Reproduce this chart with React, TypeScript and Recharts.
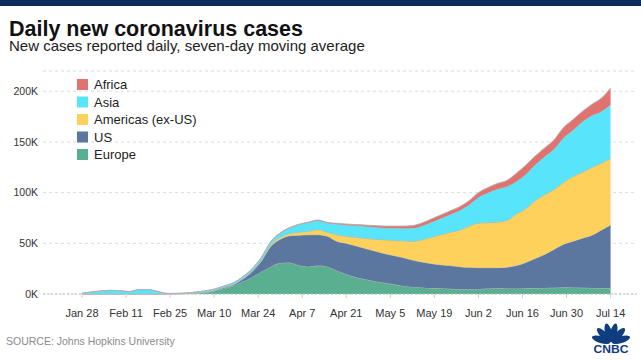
import { AreaChart, Area, XAxis, YAxis, CartesianGrid } from "recharts";

// day index, 0 = Jan 22
const DAYS = [
  6, 9, 12, 15, 18, 21, 24, 27, 30, 33, 36, 39, 42, 45, 48, 51, 54, 57, 60, 63,
  66, 69, 72, 75, 78, 81, 84, 87, 90, 93, 96, 99, 102, 105, 108, 111, 114, 117,
  120, 123, 126, 129, 132, 135, 138, 141, 144, 147, 150, 153, 156, 159, 162,
  165, 168, 171, 174,
];

// seven-day averages, thousands of cases
const EUROPE = [
  0, 0, 0, 0, 0, 0, 0, 0, 0, 0.1, 0.2, 0.4, 0.9, 1.6, 3, 5.5, 8, 12, 16.5, 22,
  27, 30.5, 31, 28, 27, 28, 27, 23, 19.5, 16.5, 14.5, 12.5, 11, 9.5, 8, 7, 6.5,
  5.8, 5.6, 5.2, 4.8, 4.6, 4.8, 5.4, 5.6, 5.4, 5.4, 5.6, 5.8, 6, 6.2, 6.6, 6.4,
  6.2, 6, 5.8, 5.8,
];
const US = [
  0, 0, 0, 0, 0, 0, 0, 0, 0, 0, 0, 0, 0.05, 0.2, 0.4, 0.8, 1, 2.5, 5.5, 10.5,
  20, 23.5, 26.5, 30, 31.5, 30.5, 30, 29, 30.5, 31, 30.5, 30, 29, 28.5, 28,
  26.5, 25, 24.2, 23.2, 22.8, 22.2, 21.7, 21.2, 20.6, 20.4, 21.1, 22.6, 25.4,
  29.2, 33, 37.8, 42.4, 45.6, 48.8, 52, 57.2, 62.2,
];
const AMERICAS = [
  0, 0, 0, 0, 0, 0, 0, 0, 0, 0, 0, 0, 0, 0.05, 0.1, 0.15, 0.3, 0.4, 0.6, 1,
  1.5, 2, 2.2, 3, 3.5, 5, 4, 6.5, 7, 8.5, 10, 11.5, 13.5, 15, 16.5, 18.5, 22,
  26, 29.7, 33, 36, 40.7, 44, 44.5, 45, 46, 51, 53, 57, 59, 59, 61, 64, 65, 67,
  66, 66,
];
const ASIA = [
  0.7, 2, 3, 3.6, 3.3, 2.4, 4.3, 4.4, 2.5, 0.5, 0.4, 0.5, 0.9, 1.2, 1.3, 1.3,
  1.5, 1.8, 2, 2.5, 3, 4, 5.5, 7.5, 8.5, 9, 9, 10.5, 11, 11.5, 11.8, 12, 11.7,
  12, 12.3, 13, 13.7, 14.8, 16, 17.5, 19.5, 21, 25.5, 29.5, 32.5, 33.5, 32, 34,
  35.5, 37.5, 40, 44, 45.5, 50, 51, 51, 53,
];
const AFRICA = [
  0, 0, 0, 0, 0, 0, 0, 0, 0, 0, 0, 0, 0, 0, 0, 0, 0, 0, 0.1, 0.15, 0.2, 0.25,
  0.3, 0.35, 0.4, 0.5, 0.6, 0.8, 1, 1, 1.2, 1.5, 1.8, 2, 2.2, 2.5, 2.8, 3.2,
  3.5, 3.5, 3.5, 4, 4.5, 5, 5.5, 6, 8, 9, 8.5, 8.5, 9, 10, 10.5, 10, 11, 13, 16,
];

const TICK_DAYS = [6, 20, 34, 48, 62, 76, 90, 104, 118, 132, 146, 160, 174];
const TICK_LABELS = [
  "Jan 28", "Feb 11", "Feb 25", "Mar 10", "Mar 24", "Apr 7", "Apr 21",
  "May 5", "May 19", "Jun 2", "Jun 16", "Jun 30", "Jul 14",
];
const Y_TICKS = [0, 50, 100, 150, 200];

// bottom to top in the stack
const SERIES = [
  { key: "europe", name: "Europe", color: "#5aaf91" },
  { key: "us", name: "US", color: "#5b77a0" },
  { key: "americas", name: "Americas (ex-US)", color: "#fed05c" },
  { key: "asia", name: "Asia", color: "#58e5fc" },
  { key: "africa", name: "Africa", color: "#e0736f" },
];

const data = DAYS.map((day, i) => ({
  day,
  europe: EUROPE[i],
  us: US[i],
  americas: AMERICAS[i],
  asia: ASIA[i],
  africa: AFRICA[i],
}));

const FONT = "'Liberation Sans', Arial, sans-serif";

function Logo() {
  const angles = [-72, -43, -14, 14, 43, 72];
  return (
    <svg
      width={40}
      height={36}
      style={{ position: "absolute", left: 591, top: 320 }}
    >
      {angles.map((a) => (
        <ellipse
          key={a}
          cx={20}
          cy={12.5}
          rx={3.4}
          ry={9.5}
          fill="#0f3d7e"
          transform={`rotate(${a} 20 23)`}
        />
      ))}
      <text
        x={20}
        y={33}
        textAnchor="middle"
        fontFamily={FONT}
        fontWeight="bold"
        fontSize={10}
        fill="#0f3d7e"
        textLength={35}
        lengthAdjust="spacingAndGlyphs"
      >
        CNBC
      </text>
    </svg>
  );
}

export default function App() {
  const legendOrder = [...SERIES].reverse();
  return (
    <div
      style={{
        position: "absolute",
        left: 0,
        top: 0,
        width: 641,
        height: 360,
        background: "#fff",
        fontFamily: FONT,
        overflow: "hidden",
      }}
    >
      <div
        style={{
          position: "absolute",
          left: 0,
          top: 0,
          width: 641,
          height: 6,
          background: "#0d2c5c",
        }}
      />
      <AreaChart
        width={641}
        height={360}
        data={data}
        margin={{ top: 71, right: 4, left: 0, bottom: 36 }}
      >
        <CartesianGrid
          vertical={false}
          stroke="#dcdcdc"
          strokeDasharray="3 3"
        />
        <XAxis
          dataKey="day"
          type="number"
          domain={[-6.4, 182.4]}
          ticks={TICK_DAYS}
          tickFormatter={(v: number) => TICK_LABELS[TICK_DAYS.indexOf(v)] ?? ""}
          interval={0}
          height={30}
          axisLine={{ stroke: "#bdbdbd", strokeDasharray: "2 2" }}
          tickLine={{ stroke: "#cfcfcf" }}
          tickSize={4}
          tickMargin={11}
          tick={{ fontSize: 11, fill: "#333", fontFamily: FONT }}
        />
        <YAxis
          type="number"
          domain={[0, 220]}
          ticks={Y_TICKS}
          tickFormatter={(v: number) => `${v}K`}
          width={43}
          axisLine={false}
          tickLine={false}
          tickSize={3}
          tickMargin={2}
          tick={{ fontSize: 10.5, fill: "#333", fontFamily: FONT }}
        />
        {SERIES.map((s) => (
          <Area
            key={s.key}
            type="monotone"
            dataKey={s.key}
            name={s.name}
            stackId="1"
            fill={s.color}
            fillOpacity={1}
            stroke="#b3b3b3"
            strokeWidth={1}
            dot={false}
            activeDot={false}
            isAnimationActive={false}
          />
        ))}
      </AreaChart>
      <svg
        width={641}
        height={360}
        style={{ position: "absolute", left: 0, top: 0, pointerEvents: "none" }}
      >
        <text
          x={9}
          y={36}
          fontFamily={FONT}
          fontWeight="bold"
          fontSize={21.5}
          fill="#111"
        >
          Daily new coronavirus cases
        </text>
        <text x={9} y={50.5} fontFamily={FONT} fontSize={15} fill="#222">
          New cases reported daily, seven-day moving average
        </text>
        {legendOrder.map((s, i) => (
          <g key={s.key}>
            <rect
              x={77}
              y={79 + i * 17.5}
              width={11}
              height={11}
              fill={s.color}
            />
            <text
              x={94}
              y={89 + i * 17.5}
              fontFamily={FONT}
              fontSize={13}
              fill="#222"
            >
              {s.name}
            </text>
          </g>
        ))}
        <text x={6} y={345} fontFamily={FONT} fontSize={10.5} fill="#8a8a8a">
          SOURCE: Johns Hopkins University
        </text>
      </svg>
      <Logo />
    </div>
  );
}
